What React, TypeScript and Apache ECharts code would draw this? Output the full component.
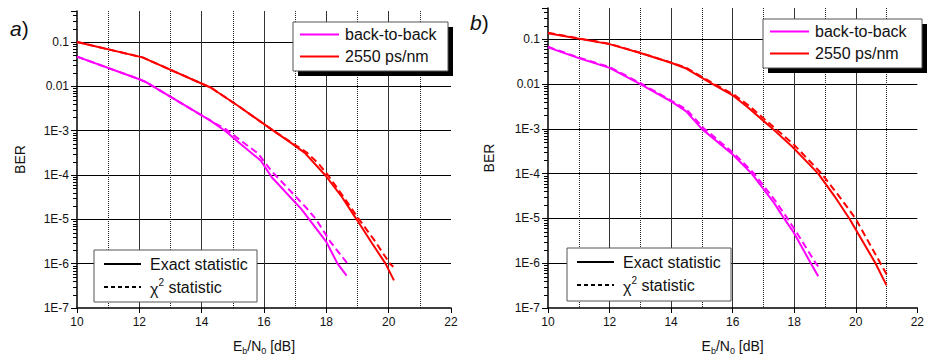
import React, { useEffect, useRef } from "react";
import * as echarts from "echarts";

// ---------- data (Eb/N0 [dB], BER) ----------
const aBackToBackExact = [
  [10, 0.0468], [12, 0.01445], [12.2, 0.0126], [14.27, 0.0017], [14.8, 9.3e-4],
  [15.25, 5.0e-4], [15.9, 2.1e-4], [16.25, 8.9e-5], [17.2, 1.7e-5], [17.45, 1e-5],
  [18.0, 3.1e-6], [18.36, 1e-6], [18.65, 5.4e-7],
];
const aBackToBackChi2 = [
  [10, 0.0468], [12, 0.01445], [12.2, 0.0126], [14.27, 0.0017], [14.8, 1.05e-3],
  [15.25, 6.0e-4], [15.8, 3.1e-4], [16.25, 1.2e-4], [16.46, 8.5e-5], [17.37, 1.78e-5],
  [17.67, 1e-5], [18.12, 3.2e-6], [18.68, 1e-6],
];
const aDispExact = [
  [10, 0.1], [12.1, 0.045], [14.3, 0.0093], [15.2, 3.5e-3], [16.3, 1e-3],
  [16.9, 5.1e-4], [17.3, 3.2e-4], [17.96, 1e-4], [18.5, 3.2e-5], [18.97, 1e-5],
  [19.45, 3e-6], [19.9, 1e-6], [20.17, 4.2e-7],
];
const aDispChi2 = [
  [10, 0.1], [12.1, 0.045], [14.3, 0.0093], [15.2, 3.5e-3], [16.3, 1e-3],
  [16.95, 5e-4], [17.35, 3.3e-4], [17.75, 1.8e-4], [18.05, 1e-4], [18.55, 3.2e-5],
  [19.05, 1e-5], [19.55, 3.3e-6], [20.04, 1e-6], [20.15, 8.5e-7],
];
const bBackToBackExact = [
  [10, 0.066], [11, 0.038], [12, 0.023], [13, 0.01], [14, 0.0041], [14.48, 0.0025],
  [15.0, 1e-3], [16.02, 2.6e-4], [16.62, 1e-4], [17.35, 2.2e-5], [17.67, 1e-5],
  [17.99, 4.8e-6], [18.52, 1.05e-6], [18.78, 5.1e-7],
];
const bBackToBackChi2 = [
  [10, 0.068], [11, 0.039], [12, 0.024], [13, 0.0105], [14, 0.0043], [14.5, 0.0027],
  [15.05, 1.05e-3], [16.05, 2.8e-4], [16.7, 1e-4], [17.4, 2.4e-5], [17.78, 1e-5],
  [18.1, 4.6e-6], [18.7, 1e-6], [18.78, 8.5e-7],
];
const bDispExact = [
  [10, 0.137], [12, 0.078], [13, 0.0495], [14, 0.0299], [14.45, 0.0229], [15.28, 0.0107],
  [16.02, 5.5e-3], [16.5, 3.0e-3], [17.3, 1e-3], [17.94, 4e-4], [18.78, 1e-4],
  [19.3, 3.2e-5], [19.79, 1e-5], [20.64, 1e-6], [21.0, 3.2e-7],
];
const bDispChi2 = [
  [10, 0.14], [12, 0.079], [13, 0.05], [14, 0.0302], [14.5, 0.023], [15.3, 0.011],
  [16.05, 5.75e-3], [16.55, 3.2e-3], [17.4, 1e-3], [18.0, 4.4e-4], [18.89, 1e-4],
  [19.45, 3.2e-5], [19.99, 1e-5], [20.8, 1e-6], [21.0, 5.7e-7],
];

const seriesNames = ["back-to-back", "2550 ps/nm"];
const statNames = ["Exact statistic", "statistic"];
const panelLabels = ["a", "b"];
const xMin = 10;
const xMax = 22;
const yMin = 1e-7;
const yMax = 0.5;

const FONT = "'Liberation Sans', Arial, Helvetica, sans-serif";
const MAGENTA = "#ff00ff";
const RED = "#ff0000";

// log-spaced minor tick positions on the BER axis (2..9 x each decade)
const minorTickValues: number[] = [];
for (let e = -7; e <= -1; e++) {
  for (let k = 2; k <= 9; k++) {
    const v = k * Math.pow(10, e);
    if (v < yMax) minorTickValues.push(v);
  }
}

function yLabel(v: number): string {
  const l = Math.log10(v);
  const e = Math.round(l);
  if (Math.abs(l - e) > 0.01) return "";
  if (e === -1) return "0.1";
  if (e === -2) return "0.01";
  return "1E" + e;
}

function xAxisCfg(gridIndex: number) {
  return {
    type: "value",
    gridIndex,
    min: xMin,
    max: xMax,
    interval: 2,
    name: "{n|E}{s|b}{n|/N}{s|0}{n| [dB]}",
    nameLocation: "middle",
    nameGap: 29,
    nameTextStyle: {
      fontFamily: FONT,
      color: "#111",
      rich: {
        n: { fontSize: 14, fontFamily: FONT, color: "#111", lineHeight: 18 },
        s: { fontSize: 9, fontFamily: FONT, color: "#111", lineHeight: 10, verticalAlign: "bottom" },
      },
    },
    axisLine: { show: true, onZero: false, lineStyle: { color: "#000", width: 1.5 } },
    axisTick: { show: true, length: 5, lineStyle: { color: "#000", width: 1 } },
    axisLabel: { fontSize: 12, color: "#111", fontFamily: FONT, margin: 8 },
    splitLine: {
      show: true,
      showMinLine: false,
      showMaxLine: false,
      lineStyle: { color: "#333", width: 1 },
    },
    minorTick: { show: false, splitNumber: 2 },
    minorSplitLine: { show: true, lineStyle: { color: "#222", width: 1, type: [1, 1] } },
  };
}

function yAxisCfg(gridIndex: number, nameGap: number) {
  return {
    type: "log",
    gridIndex,
    logBase: 10,
    min: yMin,
    max: yMax,
    interval: 1,
    name: "BER",
    nameLocation: "middle",
    nameGap,
    nameTextStyle: { fontSize: 14, fontFamily: FONT, color: "#111" },
    axisLine: { show: true, onZero: false, lineStyle: { color: "#000", width: 1.5 } },
    axisTick: { show: true, length: 6, lineStyle: { color: "#000", width: 1 } },
    axisLabel: { fontSize: 12, color: "#111", fontFamily: FONT, margin: 8, formatter: yLabel },
    splitLine: {
      show: true,
      showMinLine: false,
      showMaxLine: false,
      lineStyle: { color: "#000", width: 1 },
    },
  };
}

function lineSeries(name: string, data: number[][], color: string, dashed: boolean, idx: number) {
  return {
    type: "line",
    name,
    xAxisIndex: idx,
    yAxisIndex: idx,
    data,
    showSymbol: false,
    symbol: "none",
    smooth: false,
    silent: true,
    lineStyle: { color, width: 2, type: dashed ? [7, 4] : "solid" },
    z: dashed ? 4 : 3,
  };
}

function topLegend(x: number, y: number, w: number, h: number) {
  const lx = x + 7;
  const tx = x + 52;
  return [
    { type: "rect", shape: { x: x + 5, y: y + 5, width: w, height: h }, style: { fill: "#000" }, z: 100 },
    { type: "rect", shape: { x, y, width: w, height: h }, style: { fill: "#fff", stroke: "#555", lineWidth: 1 }, z: 101 },
    { type: "line", shape: { x1: lx, y1: y + 12.5, x2: lx + 39, y2: y + 12.5 }, style: { stroke: MAGENTA, lineWidth: 2 }, z: 102 },
    { type: "text", x: tx, y: y + 12.5, style: { text: seriesNames[0], fontSize: 16, fontFamily: FONT, fill: "#111", verticalAlign: "middle", align: "left" }, z: 102 },
    { type: "line", shape: { x1: lx, y1: y + 34.5, x2: lx + 39, y2: y + 34.5 }, style: { stroke: RED, lineWidth: 2 }, z: 102 },
    { type: "text", x: tx, y: y + 34.5, style: { text: seriesNames[1], fontSize: 16, fontFamily: FONT, fill: "#111", verticalAlign: "middle", align: "left" }, z: 102 },
  ];
}

function bottomLegend(x: number, y: number, w: number, h: number) {
  const lx = x + 10;
  const tx = x + 56;
  return [
    { type: "rect", shape: { x, y, width: w, height: h }, style: { fill: "#fff", stroke: "#555", lineWidth: 1 }, z: 101 },
    { type: "line", shape: { x1: lx, y1: y + 14, x2: lx + 37, y2: y + 14 }, style: { stroke: "#000", lineWidth: 2 }, z: 102 },
    { type: "text", x: tx, y: y + 14, style: { text: statNames[0], fontSize: 16, fontFamily: FONT, fill: "#111", verticalAlign: "middle", align: "left" }, z: 102 },
    { type: "line", shape: { x1: lx, y1: y + 37, x2: lx + 37, y2: y + 37 }, style: { stroke: "#000", lineWidth: 2, lineDash: [4, 3] }, z: 102 },
    {
      type: "text",
      x: tx,
      y: y + 37,
      style: {
        text: "{c|χ}{p|2}{t| " + statNames[1] + "}",
        verticalAlign: "middle",
        align: "left",
        rich: {
          c: { fontSize: 16, fontFamily: FONT, fill: "#111", color: "#111", lineHeight: 20, verticalAlign: "bottom" },
          p: { fontSize: 10, fontFamily: FONT, fill: "#111", color: "#111", lineHeight: 10, verticalAlign: "top" },
          t: { fontSize: 16, fontFamily: FONT, fill: "#111", color: "#111", lineHeight: 20 },
        },
      },
      z: 102,
    },
  ];
}

function panelLabel(x: number, y: number, letter: string) {
  return {
    type: "text",
    x,
    y,
    style: {
      text: "{i|" + letter + "}{n|)}",
      verticalAlign: "middle",
      align: "left",
      rich: {
        i: { fontSize: 21, fontStyle: "italic", fontFamily: FONT, fill: "#111", color: "#111" },
        n: { fontSize: 21, fontFamily: FONT, fill: "#111", color: "#111" },
      },
    },
    z: 102,
  };
}

export default function App() {
  const ref = useRef<HTMLDivElement>(null);
  useEffect(() => {
    document.body.style.margin = "0";
    if (!ref.current) return;
    const chart = echarts.init(ref.current, undefined, { renderer: "svg" });
    chart.setOption({
      animation: false,
      backgroundColor: "#fff",
      textStyle: { fontFamily: FONT },
      grid: [
        { left: 77, top: 11, width: 374, height: 301 },
        { left: 548, top: 8, width: 376, height: 303 },
      ],
      xAxis: [xAxisCfg(0), xAxisCfg(1)],
      yAxis: [yAxisCfg(0, 50), yAxisCfg(1, 52)],
      series: [
        lineSeries(seriesNames[0], aBackToBackExact, MAGENTA, false, 0),
        lineSeries(seriesNames[0], aBackToBackChi2, MAGENTA, true, 0),
        lineSeries(seriesNames[1], aDispExact, RED, false, 0),
        lineSeries(seriesNames[1], aDispChi2, RED, true, 0),
        lineSeries(seriesNames[0], bBackToBackExact, MAGENTA, false, 1),
        lineSeries(seriesNames[0], bBackToBackChi2, MAGENTA, true, 1),
        lineSeries(seriesNames[1], bDispExact, RED, false, 1),
        lineSeries(seriesNames[1], bDispChi2, RED, true, 1),
      ],
    });

    // minor (log-spaced) ticks placed through the chart's own y scales
    const minorTicks: any[] = [];
    [0, 1].forEach((gi) => {
      minorTickValues.forEach((v) => {
        const p = chart.convertToPixel({ gridIndex: gi }, [xMin, v]) as number[];
        if (!p || !isFinite(p[0]) || !isFinite(p[1])) return;
        const y = Math.round(p[1]) + 0.5;
        minorTicks.push({
          type: "line",
          silent: true,
          shape: { x1: p[0] - 4, y1: y, x2: p[0], y2: y },
          style: { stroke: "#000", lineWidth: 1 },
          z: 50,
        });
      });
    });

    chart.setOption({
      graphic: [
        ...minorTicks,
        ...topLegend(293, 22, 155, 49),
        ...bottomLegend(94, 250, 163, 52),
        ...topLegend(763, 19, 159, 49),
        ...bottomLegend(567, 248, 164, 53),
        panelLabel(10, 28, panelLabels[0]),
        panelLabel(470, 22, panelLabels[1]),
      ],
    });
    return () => chart.dispose();
  }, []);
  return (
    <div
      ref={ref}
      style={{ position: "fixed", left: 0, top: 0, width: 927, height: 360, background: "#fff" }}
    />
  );
}
